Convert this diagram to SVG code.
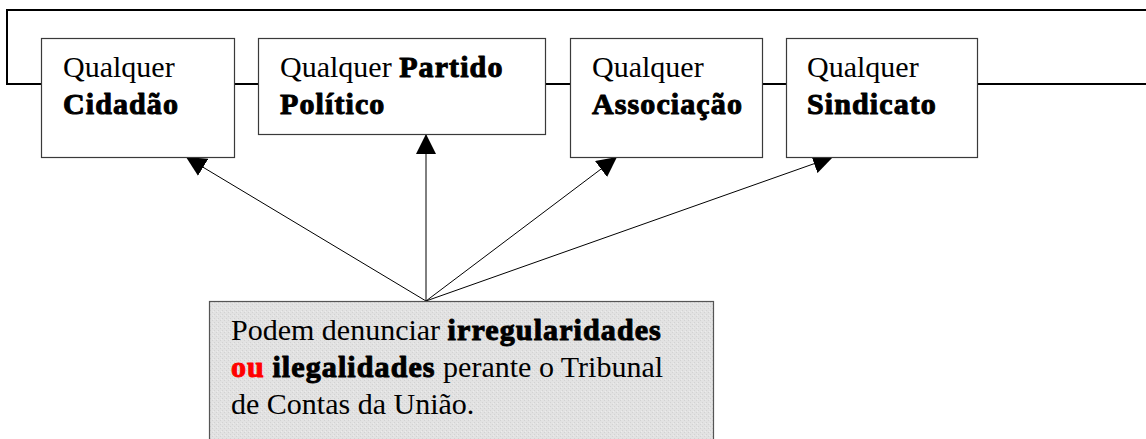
<svg xmlns="http://www.w3.org/2000/svg" width="1146" height="439" viewBox="0 0 1146 439">
<style>
.t{font-family:"Liberation Serif","Times New Roman",serif;font-size:30px;fill:#000}
.b{font-weight:bold;stroke:#000;stroke-width:1px;stroke-linejoin:round;letter-spacing:1.1px}
.r{fill:#ff0000;stroke:#ff0000}
.box{fill:#fff;stroke:#3a3a3a;stroke-width:1.2}
.frame{fill:none;stroke:#000;stroke-width:2}
.arr{stroke:#000;stroke-width:1;fill:none}
</style>
<defs>
<marker id="ah" markerUnits="userSpaceOnUse" markerWidth="20" markerHeight="20" refX="20" refY="10" orient="auto">
<path d="M0,0 L20,10 L0,20 z" fill="#000"/>
</marker>
<pattern id="tex" width="4" height="4" patternUnits="userSpaceOnUse">
<rect width="4" height="4" fill="#e2e2e2"/>
<rect x="0" y="0" width="1" height="1" fill="#d2d2d2"/>
<rect x="2" y="2" width="1" height="1" fill="#d2d2d2"/>
<rect x="1" y="3" width="1" height="1" fill="#ececec"/>
</pattern>
</defs>
<rect width="1146" height="439" fill="#fff"/>
<g id="frame">
<path class="frame" d="M1146,10 H7 V84 H1146"/>
</g>
<g id="connectors">
<line class="arr" x1="426" y1="301" x2="186" y2="157" marker-end="url(#ah)"/>
<line class="arr" x1="426" y1="301" x2="426" y2="134" marker-end="url(#ah)"/>
<line class="arr" x1="426" y1="301" x2="617" y2="157" marker-end="url(#ah)"/>
<line class="arr" x1="426" y1="301" x2="833" y2="157" marker-end="url(#ah)"/>
</g>
<g id="n1">
<rect class="box" x="41.5" y="38.5" width="193" height="119"/>
<text class="t" x="63" y="77">Qualquer</text>
<text class="t b" x="63" y="114">Cidadão</text>
</g>
<g id="n2">
<rect class="box" x="258.5" y="38.5" width="287" height="96"/>
<text class="t" x="280" y="77">Qualquer <tspan class="b">Partido</tspan></text>
<text class="t b" x="280" y="114">Político</text>
</g>
<g id="n3">
<rect class="box" x="570.5" y="38.5" width="192" height="119"/>
<text class="t" x="592" y="77">Qualquer</text>
<text class="t b" x="592" y="114">Associação</text>
</g>
<g id="n4">
<rect class="box" x="786.5" y="38.5" width="191" height="119"/>
<text class="t" x="807" y="77">Qualquer</text>
<text class="t b" x="807" y="114">Sindicato</text>
</g>
<g id="n5">
<rect x="209.5" y="301.5" width="504" height="150" fill="url(#tex)" stroke="#555" stroke-width="1.2"/>
<text class="t" x="231" y="340">Podem denunciar <tspan class="b">irregularidades</tspan></text>
<text class="t" x="231" y="377"><tspan class="b r">ou</tspan> <tspan class="b">ilegalidades</tspan> perante o Tribunal</text>
<text class="t" x="231" y="414">de Contas da União.</text>
</g>
</svg>
